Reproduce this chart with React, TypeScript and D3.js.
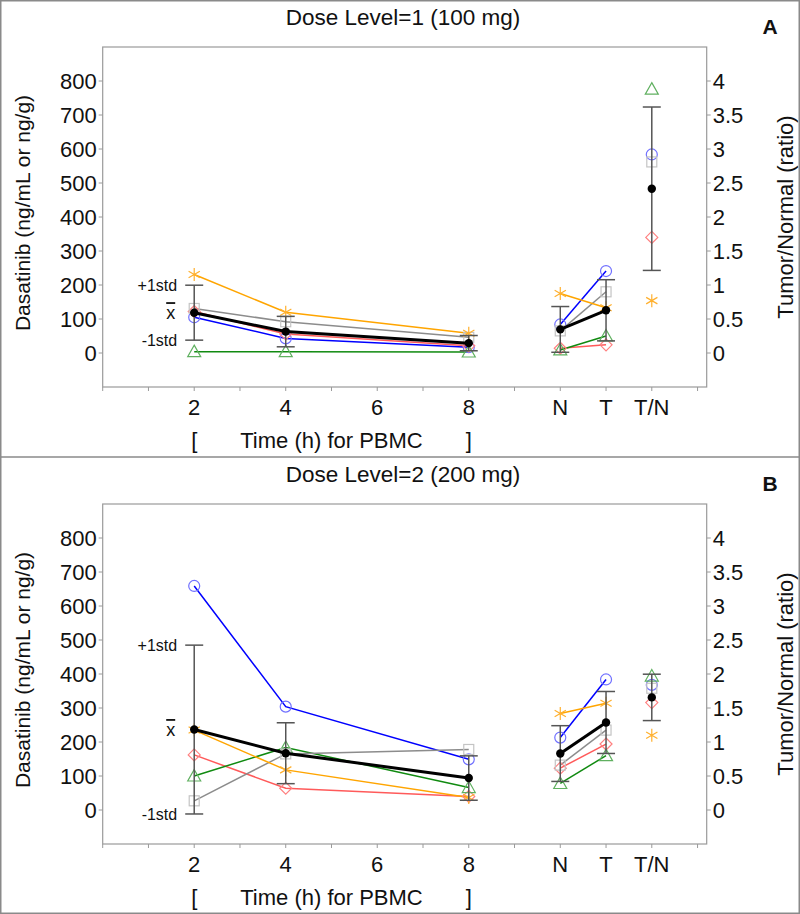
import React from "react";
import * as d3 from "d3";

// ---- data ----
const pbmcTimes = [2, 4, 8];
const tissueSites = ["N", "T"];
const ratioSite = "T/N";
const xTickValues = [2, 4, 6, 8, 10, 11, 12];
const xTickLabels = ["2", "4", "6", "8", "N", "T", "T/N"];
const leftTicks = [0, 100, 200, 300, 400, 500, 600, 700, 800];
const rightTicks = [0, 0.5, 1, 1.5, 2, 2.5, 3, 3.5, 4];

// patients: circle(blue), diamond(red), triangle(green), square(gray), star(orange)
const patientIds = ["circle", "diamond", "triangle", "square", "star"];

const dose1Pbmc = [
  [105, 43, 17],
  [122, 56, 21],
  [4, 4, 3],
  [131, 92, 46],
  [231, 120, 58],
];
const dose1Tissue = [
  [84, 241],
  [14, 24],
  [9, 50],
  [65, 180],
  [175, 133],
];
const dose1Ratio = [2.92, 1.7, 3.88, 2.81, 0.77];

const dose2Pbmc = [
  [659, 304, 149],
  [162, 64, 40],
  [100, 184, 66],
  [27, 165, 178],
  [235, 118, 37],
];
const dose2Tissue = [
  [213, 384],
  [123, 194],
  [78, 160],
  [132, 235],
  [284, 314],
];
const dose2Ratio = [1.84, 1.58, 1.97, 1.79, 1.1];

// ---- styles ----
const lineColor: Record<string, string> = {
  circle: "#0000ff",
  diamond: "#ff5a5a",
  triangle: "#108a10",
  square: "#8c8c8c",
  star: "#ffa500",
};
const markerColor: Record<string, string> = {
  circle: "#7070ff",
  diamond: "#ff8080",
  triangle: "#60b060",
  square: "#c4c4c4",
  star: "#ffb02e",
};
const FONT = "'Liberation Sans', Arial, sans-serif";
const AXIS = "#9a9a9a";
const ERR = "#555555";

const siteX: Record<string, number> = { N: 10, T: 11, "T/N": 12 };

function Marker({ kind, x, y }: { kind: string; x: number; y: number }) {
  const c = markerColor[kind];
  const common = { fill: "none", stroke: c, strokeWidth: 1.2 };
  if (kind === "circle") return <circle cx={x} cy={y} r={5.5} {...common} />;
  if (kind === "square") return <rect x={x - 5} y={y - 5} width={10} height={10} {...common} />;
  if (kind === "diamond")
    return <path d={`M${x},${y - 6}L${x + 6},${y}L${x},${y + 6}L${x - 6},${y}Z`} {...common} />;
  if (kind === "triangle")
    return <path d={`M${x},${y - 6.5}L${x + 6.5},${y + 5}L${x - 6.5},${y + 5}Z`} {...common} />;
  // star (asterisk)
  const r = 6.5;
  const segs = [90, 30, -30].map((a) => {
    const rad = (a * Math.PI) / 180;
    const dx = r * Math.cos(rad);
    const dy = r * Math.sin(rad);
    return `M${x - dx},${y + dy}L${x + dx},${y - dy}`;
  });
  return <path d={segs.join("")} fill="none" stroke={c} strokeWidth={1.2} />;
}

function Panel({
  offsetY,
  title,
  letter,
  pbmc,
  tissue,
  ratio,
}: {
  offsetY: number;
  title: string;
  letter: string;
  pbmc: number[][];
  tissue: number[][];
  ratio: number[];
}) {
  const x = d3.scaleLinear().domain([0, 13.2]).range([102.7, 706.7]);
  const y = d3.scaleLinear().domain([-100, 900]).range([387, 47]);
  const yR = d3.scaleLinear().domain([-0.5, 4.5]).range([387, 47]);
  const [y0, y1] = y.range();
  const [x0, x1] = x.range();

  const line = d3
    .line<[number, number]>()
    .x((d) => d[0])
    .y((d) => d[1]);

  const stat = (vals: number[]) => {
    const m = d3.mean(vals) as number;
    const s = d3.deviation(vals) as number;
    return { m, s };
  };

  const pbmcStats = pbmcTimes.map((_, i) => stat(pbmc.map((p) => p[i])));
  const tissueStats = tissueSites.map((_, i) => stat(tissue.map((p) => p[i])));
  const ratioStat = stat(ratio);

  const errBars: { cx: number; top: number; bot: number; mid: number }[] = [
    ...pbmcTimes.map((t, i) => ({
      cx: x(t),
      top: y(pbmcStats[i].m + pbmcStats[i].s),
      bot: y(pbmcStats[i].m - pbmcStats[i].s),
      mid: y(pbmcStats[i].m),
    })),
    ...tissueSites.map((s, i) => ({
      cx: x(siteX[s]),
      top: y(tissueStats[i].m + tissueStats[i].s),
      bot: y(tissueStats[i].m - tissueStats[i].s),
      mid: y(tissueStats[i].m),
    })),
    {
      cx: x(siteX[ratioSite]),
      top: yR(ratioStat.m + ratioStat.s),
      bot: yR(ratioStat.m - ratioStat.s),
      mid: yR(ratioStat.m),
    },
  ];

  const first = errBars[0];
  const labelX = first.cx - 17;

  return (
    <g transform={`translate(0,${offsetY})`}>
      <text x={403} y={25} textAnchor="middle" fontSize={22.5} fontFamily={FONT} fill="#111">
        {title}
      </text>
      <text x={770} y={34} textAnchor="middle" fontSize={21} fontWeight="bold" fontFamily={FONT} fill="#111">
        {letter}
      </text>

      {/* frame */}
      <rect x={x0} y={y1} width={x1 - x0} height={y0 - y1} fill="none" stroke={AXIS} strokeWidth={1.2} />

      {/* left ticks */}
      {leftTicks.map((t) => (
        <g key={"l" + t}>
          <line x1={x0 - 4} x2={x0} y1={y(t)} y2={y(t)} stroke={AXIS} strokeWidth={1} />
          <text x={x0 - 6} y={y(t)} dy="0.36em" textAnchor="end" fontSize={22} fontFamily={FONT} fill="#111">
            {t}
          </text>
        </g>
      ))}
      {/* right ticks */}
      {rightTicks.map((t) => (
        <g key={"r" + t}>
          <line x1={x1} x2={x1 + 4} y1={yR(t)} y2={yR(t)} stroke={AXIS} strokeWidth={1} />
          <text x={x1 + 6} y={yR(t)} dy="0.36em" textAnchor="start" fontSize={22} fontFamily={FONT} fill="#111">
            {t}
          </text>
        </g>
      ))}
      {/* x ticks */}
      {d3.range(0, 14).map((t) => (
        <line key={"x" + t} x1={x(t)} x2={x(t)} y1={y0} y2={y0 + 4} stroke={AXIS} strokeWidth={1} />
      ))}
      {xTickValues.map((t, i) => (
        <text key={"xl" + t} x={x(t)} y={415} textAnchor="middle" fontSize={22} fontFamily={FONT} fill="#111">
          {xTickLabels[i]}
        </text>
      ))}
      <text x={x(2)} y={448} textAnchor="middle" fontSize={22} fontFamily={FONT} fill="#111">[</text>
      <text x={x(5)} y={448} textAnchor="middle" fontSize={22} fontFamily={FONT} fill="#111">
        Time (h) for PBMC
      </text>
      <text x={x(8)} y={448} textAnchor="middle" fontSize={22} fontFamily={FONT} fill="#111">]</text>

      {/* axis titles */}
      <text
        transform={`translate(30,${(y0 + y1) / 2 - 4}) rotate(-90)`}
        textAnchor="middle"
        fontSize={21}
        fontFamily={FONT}
        fill="#111"
      >
        Dasatinib (ng/mL or ng/g)
      </text>
      <text
        transform={`translate(785,${(y0 + y1) / 2}) rotate(-90)`}
        textAnchor="middle"
        dy="0.36em"
        fontSize={22}
        fontFamily={FONT}
        fill="#111"
      >
        Tumor/Normal (ratio)
      </text>

      {/* individual lines */}
      {patientIds.map((id, p) => (
        <g key={"pl" + id}>
          <path
            d={line(pbmcTimes.map((t, i) => [x(t), y(pbmc[p][i])]))!}
            fill="none"
            stroke={lineColor[id]}
            strokeWidth={1.5}
          />
          <path
            d={line(tissueSites.map((s, i) => [x(siteX[s]), y(tissue[p][i])]))!}
            fill="none"
            stroke={lineColor[id]}
            strokeWidth={1.5}
          />
        </g>
      ))}
      {/* markers */}
      {patientIds.map((id, p) => (
        <g key={"pm" + id}>
          {pbmcTimes.map((t, i) => (
            <Marker key={"a" + i} kind={id} x={x(t)} y={y(pbmc[p][i])} />
          ))}
          {tissueSites.map((s, i) => (
            <Marker key={"b" + i} kind={id} x={x(siteX[s])} y={y(tissue[p][i])} />
          ))}
          <Marker kind={id} x={x(siteX[ratioSite])} y={yR(ratio[p])} />
        </g>
      ))}

      {/* error bars */}
      {errBars.map((e, i) => (
        <g key={"e" + i} stroke={ERR} strokeWidth={1.5}>
          <line x1={e.cx} x2={e.cx} y1={e.top} y2={e.bot} />
          <line x1={e.cx - 9} x2={e.cx + 9} y1={e.top} y2={e.top} />
          <line x1={e.cx - 9} x2={e.cx + 9} y1={e.bot} y2={e.bot} />
        </g>
      ))}

      {/* mean lines */}
      <path
        d={line(pbmcTimes.map((t, i) => [x(t), y(pbmcStats[i].m)]))!}
        fill="none"
        stroke="#000"
        strokeWidth={3}
      />
      <path
        d={line(tissueSites.map((s, i) => [x(siteX[s]), y(tissueStats[i].m)]))!}
        fill="none"
        stroke="#000"
        strokeWidth={3}
      />
      {errBars.map((e, i) => (
        <circle key={"m" + i} cx={e.cx} cy={e.mid} r={4.2} fill="#000" />
      ))}

      {/* stat labels */}
      <text x={labelX} y={first.top} dy="0.36em" textAnchor="end" fontSize={16} fontFamily={FONT} fill="#111">
        +1std
      </text>
      <text x={labelX - 2} y={first.mid} dy="0.36em" textAnchor="end" fontSize={18} fontFamily={FONT} fill="#111">
        <tspan style={{ textDecoration: "overline" }}>x</tspan>
      </text>
      <text x={labelX} y={first.bot} dy="0.36em" textAnchor="end" fontSize={16} fontFamily={FONT} fill="#111">
        -1std
      </text>
    </g>
  );
}

export default function App() {
  return (
    <svg
      width={800}
      height={914}
      style={{ position: "absolute", left: 0, top: 0, background: "#fff" }}
    >
      <rect x={0} y={0} width={800} height={914} fill="#fff" />
      <Panel
        offsetY={0}
        title="Dose Level=1 (100 mg)"
        letter="A"
        pbmc={dose1Pbmc}
        tissue={dose1Tissue}
        ratio={dose1Ratio}
      />
      <Panel
        offsetY={457}
        title="Dose Level=2 (200 mg)"
        letter="B"
        pbmc={dose2Pbmc}
        tissue={dose2Tissue}
        ratio={dose2Ratio}
      />
      <line x1={0} x2={800} y1={457} y2={457} stroke="#8a8a8a" strokeWidth={1.5} />
      <rect x={0.75} y={0.75} width={798.5} height={912.5} fill="none" stroke="#8a8a8a" strokeWidth={1.5} />
    </svg>
  );
}
